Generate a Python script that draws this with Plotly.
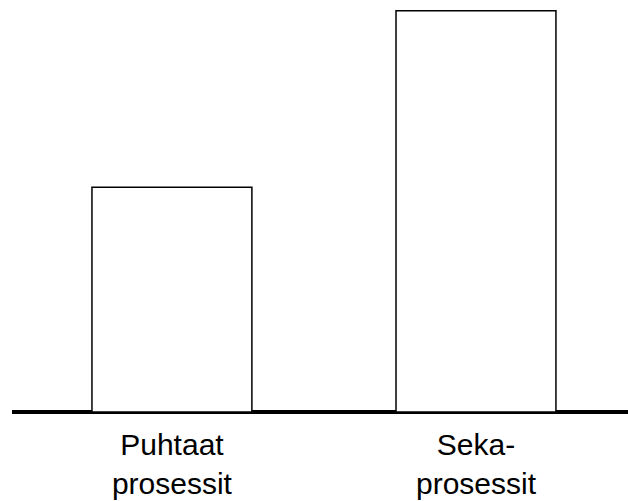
import plotly.graph_objects as go

categories = ["Puhtaat<br>prosessit", "Seka-<br>prosessit"]
values = [56, 100]

fig = go.Figure(
    go.Bar(
        x=list(range(len(categories))),
        y=values,
        width=0.526,
        marker=dict(color="white", line=dict(color="black", width=1.5)),
    )
)

fig.update_layout(
    width=628,
    height=501,
    margin=dict(l=12, r=0, t=0, b=89),
    paper_bgcolor="white",
    plot_bgcolor="white",
    showlegend=False,
    font=dict(family="Liberation Sans, Arial, sans-serif", size=30, color="black"),
)
fig.update_xaxes(
    range=[-0.526, 1.5],
    tickmode="array",
    tickvals=list(range(len(categories))),
    ticktext=categories,
    showgrid=False,
    zeroline=False,
    showline=False,
    ticks="",
    ticklabelstandoff=12,
)
fig.update_yaxes(
    range=[0, 102.7],
    showgrid=False,
    showticklabels=False,
    zeroline=True,
    zerolinecolor="black",
    zerolinewidth=4,
    showline=False,
)

fig.write_html(
    "out.html",
    config={"displayModeBar": False},
    post_script="document.body.style.margin='0';document.body.style.overflow='hidden';",
)
